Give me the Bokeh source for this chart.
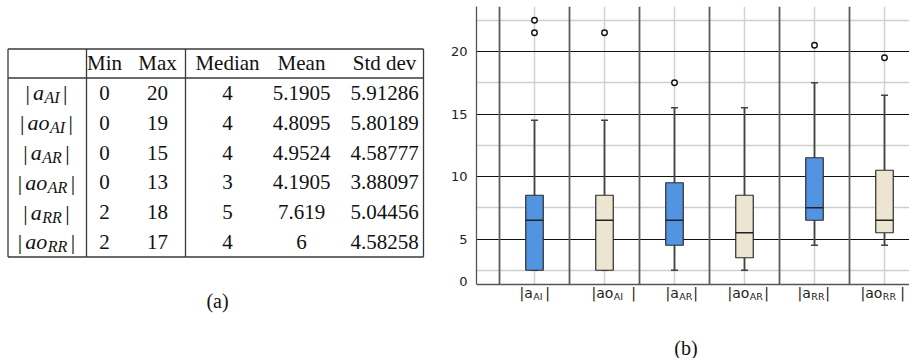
from bokeh.plotting import figure
from bokeh.layouts import row
from bokeh.models import Range1d, FixedTicker, Grid, Span
from bokeh.core.properties import value
from bokeh.embed import file_html
from bokeh.resources import INLINE

# ---------------- data: table (a) ----------------
row_main = ["a", "ao", "a", "ao", "a", "ao"]
row_sub = ["AI", "AI", "AR", "AR", "RR", "RR"]
tab_headers = ["Min", "Max", "Median", "Mean", "Std dev"]
tab_min = ["0", "0", "0", "0", "2", "2"]
tab_max = ["20", "19", "15", "13", "18", "17"]
tab_median = ["4", "4", "4", "3", "5", "4"]
tab_mean = ["5.1905", "4.8095", "4.9524", "4.1905", "7.619", "6"]
tab_std = ["5.91286", "5.80189", "4.58777", "3.88097", "5.04456", "4.58258"]

# ---------------- data: box plot (b) ----------------
box_main = ["a", "ao", "a", "ao", "a", "ao"]
box_sub = ["AI", "AI", "AR", "AR", "RR", "RR"]
whisker_low = [2.5, 2.5, 2.5, 2.5, 4.5, 4.5]
q1 = [2.5, 2.5, 4.5, 3.5, 6.5, 5.5]
median = [6.5, 6.5, 6.5, 5.5, 7.5, 6.5]
q3 = [8.5, 8.5, 9.5, 8.5, 11.5, 10.5]
whisker_high = [14.5, 14.5, 15.5, 15.5, 17.5, 16.5]
outlier_box = [0, 0, 1, 2, 4, 5]
outlier_val = [22.5, 21.5, 21.5, 17.5, 20.5, 19.5]
y_tick_vals = [1.6, 5.0, 10.0, 15.0, 20.0]
y_tick_labels = ["0", "5", "10", "15", "20"]

# ---------------- styles / layout ----------------
BLUE = "#5394E2"
BEIGE = "#EBE5D1"
box_fill = [BLUE, BEIGE, BLUE, BEIGE, BLUE, BEIGE]
SERIF = value("Liberation Serif")
SANS = "DejaVu Sans"

TOTAL_W, TOTAL_H = 909, 358
W1 = 440
W2 = TOTAL_W - W1
TOP = 6  # frame top (px)


def bare(fig):
    for g in fig.grid:
        g.visible = False
    fig.outline_line_color = None
    return fig


# ======================= table figure =======================
p1 = bare(figure(width=W1, height=TOTAL_H, x_range=Range1d(0, W1), y_range=Range1d(TOTAL_H, TOP),
                 output_backend="svg", toolbar_location=None,
                 x_axis_location=None, y_axis_location=None,
                 min_border_left=0, min_border_right=0, min_border_top=TOP, min_border_bottom=0))

TL, TR = 7.5, 423.0
T_TOP, T_HEAD, T_BOT = 48.5, 77.5, 256.5
V_SEPS = [TL, 86.0, 185.0, TR]
col_cx = [104, 157, 227, 301, 384]
head_y = 62
ROW_H = 29.8
row_y = [T_HEAD + ROW_H / 2 + ROW_H * i for i in range(len(row_main))]
LINE = "#3a3a3a"

p1.segment(x0=[TL] * 3, y0=[T_TOP, T_HEAD, T_BOT], x1=[TR] * 3, y1=[T_TOP, T_HEAD, T_BOT],
           line_color=LINE, line_width=1.3)
p1.segment(x0=V_SEPS, y0=[T_TOP] * 4, x1=V_SEPS, y1=[T_BOT] * 4,
           line_color=LINE, line_width=1.3)

FS = 21
p1.text(x=col_cx, y=[head_y] * 5, text=tab_headers, text_align="center",
        text_baseline="middle", text_font=SERIF, text_font_size=f"{FS}px", text_color="#111")
for j, col in enumerate([tab_min, tab_max, tab_median, tab_mean, tab_std]):
    p1.text(x=[col_cx[j]] * len(col), y=row_y, text=col, text_align="center",
            text_baseline="middle", text_font=SERIF, text_font_size=f"{FS}px", text_color="#111")

# row labels |a_{AI}| composed from runs
it_w = {"a": 0.5, "o": 0.5, "A": 0.611, "I": 0.333, "R": 0.611}
MF, SF = 22, 16
bar_w = 0.2 * MF
bx, by, mx, my, mt, sx, sy, st = [], [], [], [], [], [], [], []
lab_cx = 46
for i, y in enumerate(row_y):
    mw = sum(it_w[c] for c in row_main[i]) * MF
    sw = sum(it_w[c] for c in row_sub[i]) * SF
    g1, g2, g3 = 3.0, 0.5, 3.5
    total = bar_w + g1 + mw + g2 + sw + g3 + bar_w
    x = lab_cx - total / 2
    bx.append(x); by.append(y)
    x += bar_w + g1
    mx.append(x); my.append(y); mt.append(row_main[i])
    x += mw + g2
    sx.append(x); sy.append(y + 5); st.append(row_sub[i])
    x += sw + g3
    bx.append(x); by.append(y)
p1.text(x=bx, y=by, text=["|"] * len(bx), text_align="left", text_baseline="middle",
        text_font=SERIF, text_font_size=f"{MF}px", text_color="#111")
p1.text(x=mx, y=my, text=mt, text_align="left", text_baseline="middle",
        text_font=SERIF, text_font_style="italic", text_font_size=f"{MF}px", text_color="#111")
p1.text(x=sx, y=sy, text=st, text_align="left", text_baseline="middle",
        text_font=SERIF, text_font_style="italic", text_font_size=f"{SF}px", text_color="#111")
p1.text(x=[217], y=[300], text=["(a)"], text_align="center", text_baseline="middle",
        text_font=SERIF, text_font_size="20px", text_color="#111")

# ======================= box plot figure =======================
PPC = 70.0       # px per category
PPU = 12.5       # px per y unit
ML = 36
AXIS_PX = 284    # page y of the category axis line
frame_w = W2 - ML
frame_h = TOTAL_H - TOP
X0 = 1 - 58 / PPC
X1 = X0 + frame_w / PPC
AXIS_Y = 1.36
Y0 = AXIS_Y - (TOTAL_H - AXIS_PX) / PPU
Y1 = Y0 + frame_h / PPU


def ypx(py):
    """data y for a page pixel row (used only for text below the axis)"""
    return Y0 + (TOTAL_H - py) / PPU


p2 = bare(figure(width=W2, height=TOTAL_H, x_range=Range1d(X0, X1), y_range=Range1d(Y0, Y1),
                 output_backend="svg", toolbar_location=None, x_axis_location=None,
                 min_border_left=ML, min_border_right=0, min_border_top=TOP, min_border_bottom=0))

n = len(box_main)
xs = [i + 1 for i in range(n)]
bounds_x = [k + 0.5 for k in range(n + 1)]

p2.add_layout(Grid(dimension=1, ticker=FixedTicker(ticks=[2.5, 7.5, 12.5, 17.5, 22.5]),
                   grid_line_color="#cfcfcf", grid_line_width=1.5))
p2.add_layout(Grid(dimension=1, ticker=FixedTicker(ticks=[5, 10, 15, 20]),
                   grid_line_color="#111111", grid_line_width=1.1))
# vertical grid lines stop at the category axis
p2.segment(x0=xs, y0=[AXIS_Y] * n, x1=xs, y1=[Y1] * n, line_color="#d2d2d2",
           line_width=1.5, level="underlay")
p2.segment(x0=bounds_x, y0=[AXIS_Y] * len(bounds_x), x1=bounds_x, y1=[Y1] * len(bounds_x),
           line_color="#5c5c5c", line_width=1.8)
p2.add_layout(Span(location=AXIS_Y, dimension="width", line_color="#555555", line_width=1.3))

p2.yaxis.bounds = (AXIS_Y, Y1)
p2.yaxis.ticker = FixedTicker(ticks=y_tick_vals)
p2.yaxis.major_label_overrides = {v: l for v, l in zip(y_tick_vals, y_tick_labels)}
p2.yaxis.major_tick_line_color = None
p2.yaxis.minor_tick_line_color = None
p2.yaxis.axis_line_color = "#555555"
p2.yaxis.axis_line_width = 1.3
p2.yaxis.major_label_standoff = 3
p2.yaxis.major_label_text_font = SANS
p2.yaxis.major_label_text_font_size = "13px"
p2.yaxis.major_label_text_color = "#222222"

WH = "#444444"
cap = 3.5 / PPC
p2.segment(x0=xs, y0=q3, x1=xs, y1=whisker_high, line_color=WH, line_width=1.8)
p2.segment(x0=xs, y0=whisker_low, x1=xs, y1=q1, line_color=WH, line_width=1.8)
p2.segment(x0=[x - cap for x in xs], y0=whisker_high, x1=[x + cap for x in xs], y1=whisker_high,
           line_color=WH, line_width=1.6)
p2.segment(x0=[x - cap for x in xs], y0=whisker_low, x1=[x + cap for x in xs], y1=whisker_low,
           line_color=WH, line_width=1.6)
BW = 17.5 / PPC
p2.vbar(x=xs, width=BW, bottom=q1, top=q3, fill_color=box_fill,
        line_color="#2b2b2b", line_width=1.2)
p2.segment(x0=[x - BW / 2 for x in xs], y0=median, x1=[x + BW / 2 for x in xs], y1=median,
           line_color="#222222", line_width=1.5)
p2.scatter(x=[xs[k] for k in outlier_box], y=outlier_val, marker="circle", size=5.5,
           fill_color="white", line_color="#111111", line_width=1.4)

# ---- category labels |a_{AI}| and caption (b) below the axis ----
sans_w = {"|": 0.337, "a": 0.613, "o": 0.612}
lbl_left = [-15, -13, -9, -17, -17, -24]
lbl_right = [13, 29, 21, 22, 13, 18]
LMF, LSF = 14, 9.5
main_mid, sub_mid = ypx(292.5), ypx(295.5)
m_off, s_off, m_txt = [], [], []
for i in range(n):
    t = "|" + box_main[i]
    m_txt.append(t)
    m_off.append(lbl_left[i])
    s_off.append(lbl_left[i] + sum(sans_w[c] for c in t) * LMF + 0.5)
p2.text(x=xs, y=[main_mid] * n, text=m_txt, x_offset=m_off, text_align="left",
        text_baseline="middle", text_font=value(SANS), text_font_size=f"{LMF}px", text_color="#222222")
p2.text(x=xs, y=[sub_mid] * n, text=box_sub, x_offset=s_off, text_align="left",
        text_baseline="middle", text_font=value(SANS), text_font_size=f"{LSF}px", text_color="#222222")
p2.text(x=xs, y=[main_mid] * n, text=["|"] * n, x_offset=lbl_right, text_align="center",
        text_baseline="middle", text_font=value(SANS), text_font_size=f"{LMF}px", text_color="#222222")
p2.text(x=[(X0 + X1) / 2], y=[ypx(347)], text=["(b)"], x_offset=-7, text_align="center",
        text_baseline="middle", text_font=SERIF, text_font_size="20px", text_color="#111111")

layout = row(p1, p2)
open("out.html", "w").write(file_html(layout, INLINE))
